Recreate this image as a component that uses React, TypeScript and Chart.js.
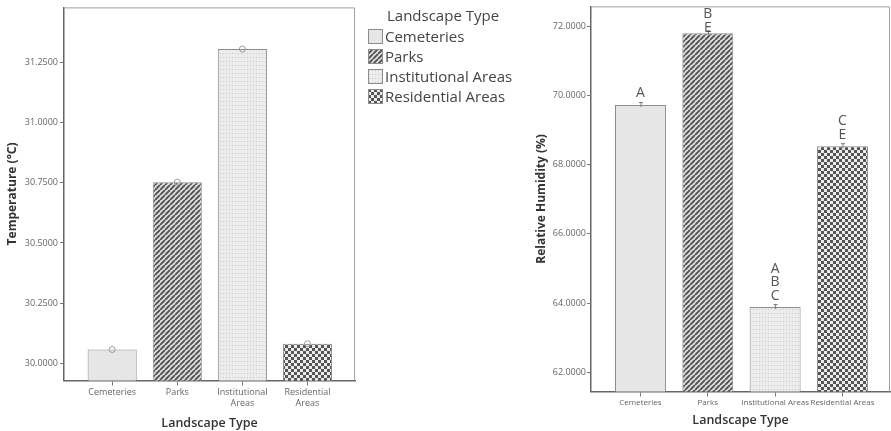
import React, { useEffect, useRef } from 'react';
import { Chart, registerables } from 'chart.js';

Chart.register(...registerables);

// ---------------- data ----------------
const categories = ['Cemeteries', 'Parks', 'Institutional Areas', 'Residential Areas'];
const leftTickLabels = [['Cemeteries'], ['Parks'], ['Institutional', 'Areas'], ['Residential', 'Areas']];
const rightTickLabels = ['Cemeteries', 'Parks', 'Institutional Areas', 'Residential Areas'];
const temperatureValues = [30.057, 30.753, 31.307, 30.081];
const humidityValues = [69.72, 71.79, 63.885, 68.53];
const humidityGroups = [['A'], ['B', 'E'], ['A', 'B', 'C'], ['C', 'E']];
const temperatureTicks = [30.0, 30.25, 30.5, 30.75, 31.0, 31.25];
const humidityTicks = [62, 64, 66, 68, 70, 72];
const fillKinds = ['solid', 'stripes', 'dots', 'checker'];

const FONT = "'Open Sans', 'DejaVu Sans', sans-serif";

function makeFill(kind: string): CanvasPattern | string {
  if (kind === 'solid') return '#e6e6e6';
  const c = document.createElement('canvas');
  const g = c.getContext('2d') as CanvasRenderingContext2D;
  if (kind === 'stripes') {
    const s = 5;
    c.width = s; c.height = s;
    g.fillStyle = '#dedede';
    g.fillRect(0, 0, s, s);
    g.strokeStyle = '#505050';
    g.lineWidth = 1.9;
    g.beginPath();
    for (const k of [-s, 0, s]) {
      g.moveTo(k, s);
      g.lineTo(k + s, 0);
    }
    g.stroke();
  } else if (kind === 'dots') {
    c.width = 3; c.height = 4;
    g.fillStyle = '#ececec';
    g.fillRect(0, 0, 3, 4);
    g.fillStyle = '#c6c6c6';
    g.fillRect(1, 1, 1, 1);
  } else {
    c.width = 6; c.height = 6;
    g.fillStyle = '#ececec';
    g.fillRect(0, 0, 6, 6);
    g.fillStyle = '#555555';
    g.fillRect(0, 0, 3, 3);
    g.fillRect(3, 3, 3, 3);
  }
  const p = g.createPattern(c, 'repeat');
  return p || '#cccccc';
}

const framePlugin = {
  id: 'frame',
  afterDraw(chart: any) {
    const { ctx, chartArea: a } = chart;
    ctx.save();
    ctx.strokeStyle = '#a0a0a0';
    ctx.lineWidth = 1;
    ctx.beginPath();
    ctx.moveTo(a.left, a.top + 0.5);
    ctx.lineTo(a.right - 0.5, a.top + 0.5);
    ctx.lineTo(a.right - 0.5, a.bottom);
    ctx.stroke();
    ctx.restore();
  },
};

const circlePlugin = {
  id: 'circles',
  afterDatasetsDraw(chart: any) {
    const { ctx } = chart;
    const meta = chart.getDatasetMeta(0);
    ctx.save();
    ctx.strokeStyle = '#9a9a9a';
    ctx.lineWidth = 1;
    meta.data.forEach((el: any) => {
      ctx.beginPath();
      ctx.arc(el.x, el.y, 3, 0, Math.PI * 2);
      ctx.stroke();
    });
    ctx.restore();
  },
};

const letterPlugin = {
  id: 'letters',
  afterDatasetsDraw(chart: any) {
    const { ctx, chartArea: a } = chart;
    const meta = chart.getDatasetMeta(0);
    ctx.save();
    ctx.font = `14px ${FONT}`;
    ctx.fillStyle = '#555';
    ctx.textAlign = 'center';
    ctx.textBaseline = 'middle';
    ctx.strokeStyle = '#777';
    ctx.lineWidth = 1;
    meta.data.forEach((el: any, i: number) => {
      ctx.beginPath();
      ctx.moveTo(el.x + 0.5, el.y - 3);
      ctx.lineTo(el.x + 0.5, el.y + 2);
      ctx.moveTo(el.x - 1.5, el.y - 2.5);
      ctx.lineTo(el.x + 2.5, el.y - 2.5);
      ctx.stroke();
      const lines = humidityGroups[i];
      const lh = 13.5;
      let top = el.y - 11.5 - (lines.length - 1) * lh;
      if (top < a.top + 8) top = a.top + 8;
      lines.forEach((t, j) => ctx.fillText(t, el.x, top + j * lh));
    });
    ctx.restore();
  },
};

function TemperatureChart() {
  const ref = useRef<HTMLCanvasElement>(null);
  useEffect(() => {
    const canvas = ref.current as HTMLCanvasElement;
    const chart = new Chart(canvas, {
      type: 'bar',
      data: {
        datasets: [
          {
            data: temperatureValues.map((v, i) => ({ x: i, y: v })),
            backgroundColor: fillKinds.map(makeFill) as any,
            borderColor: '#8c8c8c',
            borderWidth: 1,
            barPercentage: 0.754,
            categoryPercentage: 1,
          },
        ],
      },
      options: {
        responsive: false,
        animation: false,
        layout: { padding: { top: 5, right: 15, left: 0, bottom: 0 } },
        plugins: { legend: { display: false }, tooltip: { enabled: false } },
        scales: {
          x: {
            type: 'linear',
            offset: false,
            min: -0.74,
            max: 3.73,
            afterBuildTicks: (s: any) => {
              s.ticks = categories.map((_, i) => ({ value: i }));
            },
            afterFit: (s: any) => {
              s.height = 50.5;
            },
            ticks: {
              callback: (v: any) => leftTickLabels[Math.round(Number(v))],
              font: { family: FONT, size: 9 },
              color: '#666',
              padding: 2,
              maxRotation: 0,
              autoSkip: false,
            },
            grid: { offset: false, drawOnChartArea: false, drawTicks: true, tickLength: 5, color: '#777' },
            border: { display: true, color: '#666', width: 1.5 },
            title: {
              display: true,
              text: 'Landscape Type',
              font: { family: FONT, size: 12.5, weight: '600' },
              color: '#333',
              padding: { top: 0, bottom: 0.5 },
            },
          },
          y: {
            min: 29.928,
            max: 31.48,
            afterBuildTicks: (s: any) => {
              s.ticks = temperatureTicks.map((v) => ({ value: v }));
            },
            afterFit: (s: any) => {
              s.width = 64;
            },
            ticks: {
              callback: (v: any) => Number(v).toFixed(4),
              font: { family: FONT, size: 9 },
              color: '#666',
              padding: 2,
            },
            grid: { drawOnChartArea: false, drawTicks: true, tickLength: 4, color: '#777' },
            border: { display: true, color: '#666', width: 1.5 },
            title: {
              display: true,
              text: 'Temperature (°C)',
              font: { family: FONT, size: 12, weight: 'bold' },
              color: '#333',
              padding: { top: 5, bottom: 0 },
            },
          },
        },
      } as any,
      plugins: [framePlugin, circlePlugin],
    });
    return () => chart.destroy();
  }, []);
  return <canvas ref={ref} width={370} height={431} style={{ position: 'absolute', left: 0, top: 0 }} />;
}

function HumidityChart() {
  const ref = useRef<HTMLCanvasElement>(null);
  useEffect(() => {
    const canvas = ref.current as HTMLCanvasElement;
    const chart = new Chart(canvas, {
      type: 'bar',
      data: {
        datasets: [
          {
            data: humidityValues.map((v, i) => ({ x: i, y: v })),
            backgroundColor: fillKinds.map(makeFill) as any,
            borderColor: '#8c8c8c',
            borderWidth: 1,
            barPercentage: 0.757,
            categoryPercentage: 1,
          },
        ],
      },
      options: {
        responsive: false,
        animation: false,
        layout: { padding: { top: 5, right: 1, left: 0, bottom: 0 } },
        plugins: { legend: { display: false }, tooltip: { enabled: false } },
        scales: {
          x: {
            type: 'linear',
            offset: false,
            min: -0.735,
            max: 3.706,
            afterBuildTicks: (s: any) => {
              s.ticks = categories.map((_, i) => ({ value: i }));
            },
            afterFit: (s: any) => {
              s.height = 39.5;
            },
            ticks: {
              callback: (v: any) => rightTickLabels[Math.round(Number(v))],
              font: { family: FONT, size: 8 },
              color: '#666',
              padding: 1.5,
              maxRotation: 0,
              autoSkip: false,
            },
            grid: { offset: false, drawOnChartArea: false, drawTicks: true, tickLength: 5, color: '#777' },
            border: { display: true, color: '#666', width: 1.5 },
            title: {
              display: true,
              text: 'Landscape Type',
              font: { family: FONT, size: 12.5, weight: '600' },
              color: '#333',
              padding: { top: 0, bottom: 2.8 },
            },
          },
          y: {
            min: 61.448,
            max: 72.567,
            afterBuildTicks: (s: any) => {
              s.ticks = humidityTicks.map((v) => ({ value: v }));
            },
            afterFit: (s: any) => {
              s.width = 91;
            },
            ticks: {
              callback: (v: any) => Number(v).toFixed(4),
              font: { family: FONT, size: 9 },
              color: '#666',
              padding: 1,
            },
            grid: { drawOnChartArea: false, drawTicks: true, tickLength: 4, color: '#777' },
            border: { display: true, color: '#666', width: 1.5 },
            title: {
              display: true,
              text: 'Relative Humidity (%)',
              font: { family: FONT, size: 12, weight: 'bold' },
              color: '#333',
              padding: { top: 34.3, bottom: 0 },
            },
          },
        },
      } as any,
      plugins: [framePlugin, letterPlugin],
    });
    return () => chart.destroy();
  }, []);
  return <canvas ref={ref} width={391} height={431} style={{ position: 'absolute', left: 500, top: 0 }} />;
}

function Swatch({ kind }: { kind: string }) {
  const ref = useRef<HTMLCanvasElement>(null);
  useEffect(() => {
    const c = ref.current as HTMLCanvasElement;
    const g = c.getContext('2d') as CanvasRenderingContext2D;
    g.clearRect(0, 0, c.width, c.height);
    g.fillStyle = makeFill(kind) as any;
    g.fillRect(0, 0, c.width, c.height);
    g.strokeStyle = '#8c8c8c';
    g.lineWidth = 1;
    g.strokeRect(0.5, 0.5, c.width - 1, c.height - 1);
  }, [kind]);
  return <canvas ref={ref} width={15} height={15} style={{ display: 'block' }} />;
}

function Legend() {
  return (
    <div style={{ position: 'absolute', left: 368, top: 4, fontFamily: FONT, color: '#444', fontSize: 15 }}>
      <div style={{ marginLeft: 19, height: 22, lineHeight: '22px', whiteSpace: 'nowrap' }}>Landscape Type</div>
      {categories.map((c, i) => (
        <div key={c} style={{ display: 'flex', alignItems: 'center', height: 20, whiteSpace: 'nowrap' }}>
          <Swatch kind={fillKinds[i]} />
          <span style={{ marginLeft: 2, lineHeight: '20px' }}>{c}</span>
        </div>
      ))}
    </div>
  );
}

export default function App() {
  return (
    <div
      style={{
        position: 'fixed',
        left: 0,
        top: 0,
        width: 891,
        height: 431,
        background: '#fff',
        overflow: 'hidden',
      }}
    >
      <TemperatureChart />
      <HumidityChart />
      <Legend />
    </div>
  );
}
